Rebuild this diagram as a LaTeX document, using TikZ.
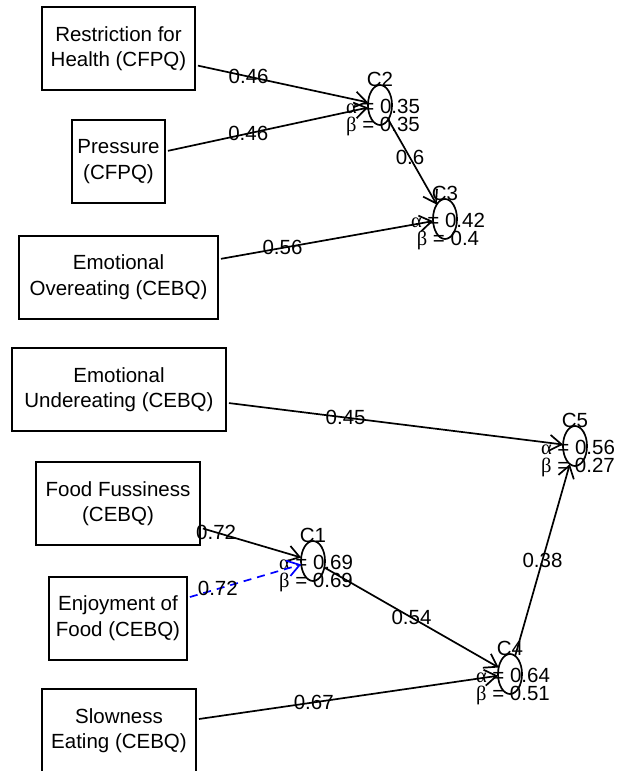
\documentclass[tikz,border=0pt]{standalone}
\usepackage{fontspec}
\setmainfont{Liberation Sans}
\newfontfamily\gk{Liberation Serif}
\usetikzlibrary{arrows.meta}
\usetikzlibrary{shapes.geometric}

\begin{document}
\begin{tikzpicture}[x=1pt,y=-1pt,inner sep=0pt,outer sep=0pt,line width=1.7pt,
font=\fontsize{20.5}{25.5}\selectfont,
>={Straight Barb[length=12pt,width=16pt]},
obsbox/.style={draw,rectangle,align=center,inner xsep=4pt,minimum height=83pt,line width=2pt},
lat/.style={draw,ellipse,minimum width=24pt,minimum height=40pt},
loading/.style={->,shorten <=3pt}]
\useasboundingbox (0,0) rectangle (616,771);
\draw (118.5,48.5) node[obsbox,minimum width=153pt] (rh) {Restriction for\\Health (CFPQ)};
\draw (118.5,161.5) node[obsbox,minimum width=93pt] (pr) {Pressure\\(CFPQ)};
\draw (118.5,277) node[obsbox,minimum width=199pt] (eo) {Emotional\\Overeating (CEBQ)};
\draw (119,389.5) node[obsbox,minimum width=214pt] (eu) {Emotional\\Undereating (CEBQ)};
\draw (118,503.5) node[obsbox,minimum width=164pt] (ff) {Food Fussiness\\(CEBQ)};
\draw (118,618) node[obsbox,minimum width=138pt] (ef) {Enjoyment of\\Food (CEBQ)};
\draw (119,730.5) node[obsbox,minimum width=154pt] (se) {Slowness\\Eating (CEBQ)};
\draw (380,105) node[lat] (c2) {};
\draw (445,219) node[lat] (c3) {};
\draw (313,561) node[lat] (c1) {};
\draw (510,674) node[lat] (c4) {};
\draw (575,446) node[lat] (c5) {};
\draw (c2.north) ++(0,2) node[above] (c2t) {C2};
\draw (c3.north) ++(0,2) node[above] (c3t) {C3};
\draw (c1.north) ++(0,2) node[above] (c1t) {C1};
\draw (c4.north) ++(0,2) node[above] (c4t) {C4};
\draw (c5.north) ++(0,2) node[above] (c5t) {C5};
\draw (c2.center) ++(3,1) node (c2a) {{\gk α} = 0.35};
\draw (c2.center) ++(3,21) node (c2b) {{\gk β} = 0.35};
\draw (c3.center) ++(3,1) node (c3a) {{\gk α} = 0.42};
\draw (c3.center) ++(3,21) node (c3b) {{\gk β} = 0.4};
\draw (c1.center) ++(3,1) node (c1a) {{\gk α} = 0.69};
\draw (c1.center) ++(3,21) node (c1b) {{\gk β} = 0.69};
\draw (c4.center) ++(3,1) node (c4a) {{\gk α} = 0.64};
\draw (c4.center) ++(3,21) node (c4b) {{\gk β} = 0.51};
\draw (c5.center) ++(3,1) node (c5a) {{\gk α} = 0.56};
\draw (c5.center) ++(3,21) node (c5b) {{\gk β} = 0.27};
\draw[loading] (rh) -- node[pos=.31] {0.46} (c2);
\draw[loading] (pr) -- node[pos=.41] {0.46} (c2);
\draw[->] (c2) -- node[pos=.45] {0.6} (c3);
\draw[loading] (eo) -- node[pos=.30] {0.56} (c3);
\draw[loading] (eu) -- node[pos=.355] {0.45} (c5);
\draw[loading] (ff) -- node[pos=.16] {0.72} (c1);
\draw[loading,blue,dash pattern=on 8pt off 6pt] (ef) -- node[pos=.27,black] {0.72} (c1);
\draw[->] (c1) -- node[pos=.5] {0.54} (c4);
\draw[loading] (se) -- node[pos=.39] {0.67} (c4);
\draw[->] (c4) -- node[pos=.5] {0.38} (c5);

\end{tikzpicture}
\end{document}
